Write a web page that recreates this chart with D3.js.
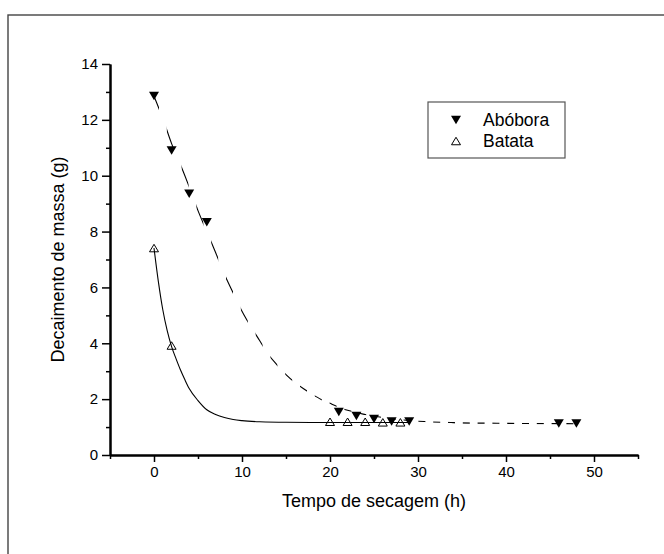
<!DOCTYPE html>
<html>
<head>
<meta charset="utf-8">
<script src="https://cdn.jsdelivr.net/npm/d3@7"></script>
<style>
  body { margin: 0; background: #fff; }
  text { font-family: "Liberation Sans", Arial, sans-serif; fill: #000; }
</style>
</head>
<body>
<svg id="chart"></svg>
<script>
// measured points
const abobora_x = [0, 2, 4, 6, 21, 23, 25, 27, 29, 46, 48];
const abobora_y = [12.85, 10.9, 9.35, 8.33, 1.54, 1.4, 1.29, 1.2, 1.2, 1.13, 1.13];
const batata_x = [0, 2, 20, 22, 24, 26, 28];
const batata_y = [7.41, 3.92, 1.19, 1.19, 1.19, 1.17, 1.17];

// fitted curves
const abobora_fit_x = [0, 1, 2, 3, 4, 5, 6, 7, 8, 9, 10, 11, 12, 13, 14, 15, 16, 17, 18, 19, 20, 22, 24, 26, 28, 30, 34, 38, 42, 48];
const abobora_fit_y = [12.85, 12.05, 11.15, 10.4, 9.6, 8.75, 8.0, 7.25, 6.47, 5.8, 5.15, 4.6, 4.1, 3.6, 3.22, 2.88, 2.6, 2.37, 2.17, 1.99, 1.85, 1.6, 1.45, 1.34, 1.26, 1.21, 1.16, 1.14, 1.13, 1.12];
const batata_fit_x = [0, 0.5, 1, 1.5, 2, 2.5, 3, 3.5, 4, 5, 6, 7, 8, 9, 10, 12, 15, 20, 29];
const batata_fit_y = [7.41, 6.2, 5.2, 4.45, 3.88, 3.45, 3.05, 2.7, 2.38, 1.95, 1.62, 1.45, 1.34, 1.27, 1.23, 1.19, 1.17, 1.165, 1.165];

const x_major = [0, 10, 20, 30, 40, 50];
const x_minor = [-5, 5, 15, 25, 35, 45, 55];
const y_major = [0, 2, 4, 6, 8, 10, 12, 14];
const y_minor = [1, 3, 5, 7, 9, 11, 13];

const series_names = ['Abóbora', 'Batata'];

const width = 664, height = 554;
const svg = d3.select('#chart').attr('width', width).attr('height', height);

// outer frame (runs off the right and bottom edges)
svg.append('rect')
    .attr('x', 8).attr('y', 15)
    .attr('width', 700).attr('height', 600)
    .attr('fill', 'none')
    .attr('stroke', '#444')
    .attr('stroke-width', 1.4);

const xscale = d3.scaleLinear().domain([-5, 55]).range([110, 638]);
const yscale = d3.scaleLinear().domain([0, 14]).range([455, 64]);

const zip = (xs, ys) => xs.map((x, i) => ({ x: x, y: ys[i] }));

// axes
const font_tick = 15;
const xaxis_g = svg.append('g').attr('transform', `translate(0, ${yscale(0)})`);
xaxis_g.call(d3.axisBottom(xscale).tickValues(x_minor).tickSize(4).tickFormat('').tickSizeOuter(0));
xaxis_g.append('g').call(d3.axisBottom(xscale).tickValues(x_major).tickSize(7).tickSizeOuter(0).tickPadding(4));

const yaxis_g = svg.append('g').attr('transform', `translate(${xscale(-5)}, 0)`);
yaxis_g.call(d3.axisLeft(yscale).tickValues(y_minor).tickSize(4).tickFormat('').tickSizeOuter(0));
yaxis_g.append('g').call(d3.axisLeft(yscale).tickValues(y_major).tickSize(8).tickSizeOuter(0).tickPadding(4));

svg.selectAll('.domain').attr('stroke', '#000').attr('stroke-width', 2);
svg.selectAll('.tick line').attr('stroke', '#000').attr('stroke-width', 1.5);
svg.selectAll('.tick text')
    .attr('font-family', '"Liberation Sans", Arial, sans-serif')
    .attr('font-size', font_tick)
    .attr('fill', '#000');

// axis titles
svg.append('text')
    .attr('x', (xscale(-5) + xscale(55)) / 2)
    .attr('y', 507)
    .attr('text-anchor', 'middle')
    .attr('font-size', 18)
    .text('Tempo de secagem (h)');

svg.append('text')
    .attr('transform', `translate(64, ${(yscale(0) + yscale(14)) / 2}) rotate(-90)`)
    .attr('text-anchor', 'middle')
    .attr('font-size', 18)
    .text('Decaimento de massa (g)');

// fitted curves
const line = d3.line()
    .x(d => xscale(d.x))
    .y(d => yscale(d.y))
    .curve(d3.curveMonotoneX);

// the dashes follow the x direction, so cut the line with vertical stripes
const dash_period = 14.8, dash_len = 7;
svg.append('defs').append('clipPath').attr('id', 'dash-clip')
    .selectAll('rect')
    .data(d3.range(xscale(0) - 2, xscale(55), dash_period))
    .join('rect')
    .attr('x', d => d).attr('y', 0)
    .attr('width', dash_len).attr('height', height);

svg.append('path')
    .datum(zip(abobora_fit_x, abobora_fit_y))
    .attr('d', line)
    .attr('fill', 'none')
    .attr('stroke', '#000')
    .attr('stroke-width', 1.1)
    .attr('clip-path', 'url(#dash-clip)');

svg.append('path')
    .datum(zip(batata_fit_x, batata_fit_y))
    .attr('d', line)
    .attr('fill', 'none')
    .attr('stroke', '#000')
    .attr('stroke-width', 1.1);

// markers
const tri_down = (w, h) => `M${-w / 2},${-h / 2}L${w / 2},${-h / 2}L0,${h / 2}Z`;
const tri_up = (w, h) => `M${-w / 2},${h / 2}L${w / 2},${h / 2}L0,${-h / 2}Z`;

svg.append('g').selectAll('path')
    .data(zip(batata_x, batata_y))
    .join('path')
    .attr('transform', d => `translate(${xscale(d.x)}, ${yscale(d.y)})`)
    .attr('d', tri_up(9, 7.5))
    .attr('fill', 'none')
    .attr('stroke', '#000')
    .attr('stroke-width', 1);

svg.append('g').selectAll('path')
    .data(zip(abobora_x, abobora_y))
    .join('path')
    .attr('transform', d => `translate(${xscale(d.x)}, ${yscale(d.y)})`)
    .attr('d', tri_down(10, 8.5))
    .attr('fill', '#000');

// legend
const legend = svg.append('g');
legend.append('rect')
    .attr('x', 428).attr('y', 102)
    .attr('width', 137).attr('height', 56)
    .attr('fill', '#fff')
    .attr('stroke', '#555')
    .attr('stroke-width', 1.2);

const legend_rows = legend.selectAll('g.row')
    .data(series_names)
    .join('g')
    .attr('class', 'row')
    .attr('transform', (d, i) => `translate(0, ${119 + i * 21})`);

legend_rows.append('path')
    .attr('transform', 'translate(456, 1)')
    .attr('d', (d, i) => i === 0 ? tri_down(10, 8.5) : tri_up(9, 7.5))
    .attr('fill', (d, i) => i === 0 ? '#000' : 'none')
    .attr('stroke', '#000')
    .attr('stroke-width', (d, i) => i === 0 ? 0 : 1);

legend_rows.append('text')
    .attr('x', 483)
    .attr('y', 6.5)
    .attr('font-size', 17.5)
    .text(d => d);
</script>
</body>
</html>
